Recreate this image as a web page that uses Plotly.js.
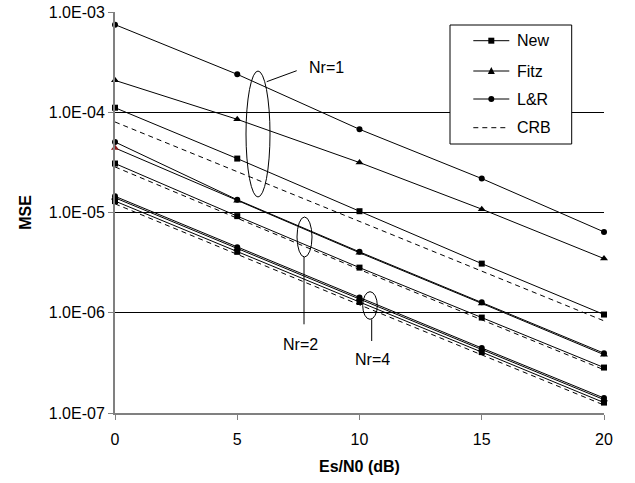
<!DOCTYPE html>
<html>
<head>
<meta charset="utf-8">
<script src="https://cdn.plot.ly/plotly-3.0.1.min.js"></script>
<style>html,body{margin:0;padding:0;background:#fff;}#chart{width:635px;height:483px;}</style>
</head>
<body>
<div id="chart"></div>
<script>
// ---- data ----
const esn0 = [0, 5, 10, 15, 20];

// Nr = 1
const new1  = [1.11e-4, 3.45e-5, 1.03e-5, 3.09e-6, 9.6e-7];
const fitz1 = [2.08e-4, 8.5e-5, 3.15e-5, 1.08e-5, 3.47e-6];
const lr1   = [7.48e-4, 2.39e-4, 6.76e-5, 2.18e-5, 6.4e-6];
const crb1  = [8.0e-5, 2.55e-5, 8.1e-6, 2.6e-6, 8.3e-7];

// Nr = 2
const new2  = [3.08e-5, 9.2e-6, 2.82e-6, 8.95e-7, 2.84e-7];
const fitz2 = [4.4e-5, 1.31e-5, 3.97e-6, 1.24e-6, 3.82e-7];
const lr2   = [5.05e-5, 1.34e-5, 4.05e-6, 1.27e-6, 3.95e-7];
const crb2  = [2.85e-5, 8.8e-6, 2.7e-6, 8.5e-7, 2.7e-7];

// Nr = 4
const new4  = [1.30e-5, 4.05e-6, 1.28e-6, 4.05e-7, 1.27e-7];
const fitz4 = [1.40e-5, 4.35e-6, 1.37e-6, 4.3e-7, 1.36e-7];
const lr4   = [1.45e-5, 4.5e-6, 1.42e-6, 4.45e-7, 1.41e-7];
const crb4  = [1.22e-5, 3.8e-6, 1.2e-6, 3.8e-7, 1.2e-7];

const yTickVals = [1e-7, 1e-6, 1e-5, 1e-4, 1e-3];
const yTickText = ['1.0E-07', '1.0E-06', '1.0E-05', '1.0E-04', '1.0E-03'];
const xTickVals = [0, 5, 10, 15, 20];
const legendNames = ['New', 'Fitz', 'L&R', 'CRB'];
const groupLabels = ['Nr=1', 'Nr=2', 'Nr=4'];

// ---- styling ----
const FONT = 'Liberation Sans, Arial, sans-serif';
const M = {l: 115, r: 31, t: 12, b: 70};
const W = 635, H = 483;
const PW = W - M.l - M.r, PH = H - M.t - M.b;
const px = v => (v - M.l) / PW;          // pixel -> paper x
const py = v => (H - M.b - v) / PH;      // pixel -> paper y

function solid(y, sym, size, name, colors) {
  return {
    x: esn0, y: y, type: 'scatter', mode: 'lines+markers', name: name,
    showlegend: false, cliponaxis: false,
    line: {color: '#000', width: 1},
    marker: {symbol: sym, size: size, color: colors || '#000'}
  };
}
function dashed(y, name) {
  return {
    x: esn0, y: y, type: 'scatter', mode: 'lines', name: name,
    showlegend: false, cliponaxis: false,
    line: {color: '#000', width: 1, dash: '5px,4px'}
  };
}

const traces = [
  solid(lr1, 'circle', 6, 'L&R Nr=1'),
  solid(fitz1, 'triangle-up', 7, 'Fitz Nr=1'),
  solid(new1, 'square', 6, 'New Nr=1'),
  dashed(crb1, 'CRB Nr=1'),
  solid(lr2, 'circle', 6, 'L&R Nr=2'),
  solid(fitz2, 'triangle-up', 7, 'Fitz Nr=2', ['#8b1a1a', '#000', '#000', '#000', '#000']),
  solid(new2, 'square', 6, 'New Nr=2'),
  dashed(crb2, 'CRB Nr=2'),
  solid(lr4, 'circle', 6, 'L&R Nr=4'),
  solid(fitz4, 'triangle-up', 7, 'Fitz Nr=4'),
  solid(new4, 'square', 6, 'New Nr=4'),
  dashed(crb4, 'CRB Nr=4')
];

const shapes = [];
const annotations = [];

function ellipse(x0, x1, y0, y1) {
  shapes.push({type: 'circle', xref: 'paper', yref: 'paper',
    x0: px(x0), x1: px(x1), y0: py(y1), y1: py(y0), line: {color: '#000', width: 1}});
}
function seg(x0, y0, x1, y1, dash) {
  shapes.push({type: 'line', xref: 'paper', yref: 'paper',
    x0: px(x0), y0: py(y0), x1: px(x1), y1: py(y1),
    line: {color: '#000', width: 1, dash: dash || 'solid'}});
}
function label(text, x, y, anchor) {
  annotations.push({text: text, xref: 'paper', yref: 'paper', x: px(x), y: py(y),
    xanchor: anchor || 'center', yanchor: 'middle', showarrow: false,
    font: {family: FONT, size: 16, color: '#000'}});
}

ellipse(246, 270, 71, 197);
seg(266.7, 81.7, 296.7, 70.7);
label(groupLabels[0], 326.5, 68);

ellipse(297, 312, 217, 257);
seg(304, 257, 304, 324.3);
label(groupLabels[1], 300.7, 344.3);

ellipse(362.7, 377.3, 291.7, 319.3);
seg(371.7, 319.3, 371.7, 341);
label(groupLabels[2], 372, 359.3);

// legend box (drawn)
shapes.push({type: 'rect', xref: 'paper', yref: 'paper',
  x0: px(450), x1: px(571.7), y0: py(144), y1: py(25),
  line: {color: '#000', width: 1}, fillcolor: '#fff', layer: 'above'});
const legY = [40.7, 71, 99, 127.7];
const lx0 = 473.3, lx1 = 509.3, lxc = 491.3;
legY.forEach((yy, i) => {
  seg(lx0, yy, lx1, yy, i === 3 ? '5px,4px' : 'solid');
  label(legendNames[i], 515, yy, 'left');
});
shapes.push({type: 'rect', xref: 'paper', yref: 'paper',
  x0: px(lxc - 3), x1: px(lxc + 3), y0: py(legY[0] + 3), y1: py(legY[0] - 3),
  line: {width: 0}, fillcolor: '#000'});
shapes.push({type: 'path', xref: 'paper', yref: 'paper',
  path: 'M' + px(lxc) + ',' + py(legY[1] - 4) + ' L' + px(lxc + 3.5) + ',' + py(legY[1] + 3) +
        ' L' + px(lxc - 3.5) + ',' + py(legY[1] + 3) + ' Z',
  line: {width: 0}, fillcolor: '#000'});
shapes.push({type: 'circle', xref: 'paper', yref: 'paper',
  x0: px(lxc - 3), x1: px(lxc + 3), y0: py(legY[2] + 3), y1: py(legY[2] - 3),
  line: {width: 0}, fillcolor: '#000'});

const layout = {
  width: W, height: H,
  margin: M,
  paper_bgcolor: '#fff', plot_bgcolor: '#fff',
  showlegend: false,
  font: {family: FONT, size: 16, color: '#000'},
  xaxis: {
    range: [0, 20], tickvals: xTickVals, ticktext: xTickVals.map(String),
    showgrid: false, zeroline: false,
    showline: true, linecolor: '#808080', linewidth: 2,
    ticks: 'outside', ticklen: 5, tickcolor: '#808080', tickwidth: 1,
    tickfont: {family: FONT, size: 16, color: '#000'},
    ticklabelstandoff: 6,
    title: {text: '<b>Es/N0 (dB)</b>', font: {family: FONT, size: 16, color: '#000'}, standoff: 14}
  },
  yaxis: {
    type: 'log', range: [-7, -3], tickvals: yTickVals, ticktext: yTickText,
    showgrid: true, gridcolor: '#000', gridwidth: 1, zeroline: false,
    showline: true, linecolor: '#808080', linewidth: 2,
    ticks: 'outside', ticklen: 5, tickcolor: '#808080', tickwidth: 1,
    tickfont: {family: FONT, size: 16, color: '#000'},
    ticklabelstandoff: 0,
    title: {text: '<b>MSE</b>', font: {family: FONT, size: 16, color: '#000'}, standoff: 13}
  },
  shapes: shapes,
  annotations: annotations
};

Plotly.newPlot('chart', traces, layout, {displayModeBar: false, staticPlot: true});
</script>
</body>
</html>
